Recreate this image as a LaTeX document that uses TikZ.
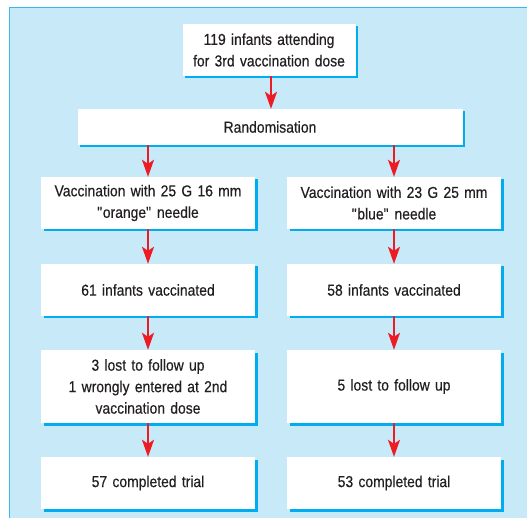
\documentclass[tikz,border=0pt]{standalone}
\usepackage{fontspec}
\setmainfont{Liberation Sans}[FakeStretch=0.88, WordSpace=0.7, FakeBold=0.4]
\usetikzlibrary{arrows.meta,shadows}
\definecolor{bgblue}{HTML}{C8E9F8}
\definecolor{edgeblue}{HTML}{3BB8EA}
\definecolor{shadowblue}{HTML}{00AEEF}
\definecolor{arrowred}{HTML}{ED1C24}
\definecolor{txt}{HTML}{231F20}
\newcommand{\qq}{\textquotedbl}
\begin{document}
\begin{tikzpicture}[x=1pt,y=-1pt,
  flowbox/.style={fill=white, draw=none, align=center, text=txt, font=\fontsize{15.8}{21.5}\selectfont,
    inner sep=0pt, text width=#1,
    drop shadow={shadow xshift=2.5pt, shadow yshift=-2.5pt, fill=shadowblue, opacity=1}},
  flowbox/.default=214pt,
  flowarrow/.style={draw=arrowred, line width=1.8pt, -{Stealth[length=17pt,width=12pt,inset=4pt]}}
]
\useasboundingbox (0,0) rectangle (527,518);
\fill[bgblue] (9,7.5) rectangle (530,521);
\draw[edgeblue, line width=1pt] (9,521) -- (9,7.5) -- (530,7.5);

\node[flowbox=173pt, minimum height=52pt] (b1) at (269,50) {119 infants attending\\for 3rd vaccination dose};
\node[flowbox=385pt, minimum height=36pt] (rand) at (270,127) {Randomisation};

\node[flowbox, minimum height=52pt] (l1) at (148,203) {Vaccination with 25 G 16 mm\\\qq orange\qq{} needle};
\node[flowbox, minimum height=52pt] (r1) at (394,203) {Vaccination with 23 G 25 mm\\\qq blue\qq{} needle};
\node[flowbox, minimum height=52pt] (l2) at (148,290) {61 infants vaccinated};
\node[flowbox, minimum height=52pt] (r2) at (394,290) {58 infants vaccinated};
\node[flowbox, minimum height=73pt] (l3) at (148,386.5) {3 lost to follow up\\1 wrongly entered at 2nd\\vaccination dose};
\node[flowbox, minimum height=73pt] (r3) at (394,386.5) {5 lost to follow up};
\node[flowbox, minimum height=52pt] (l4) at (148,483) {57 completed trial};
\node[flowbox, minimum height=52pt] (r4) at (394,483) {53 completed trial};

\draw[flowarrow] ([xshift=2pt]b1.south) -- ([xshift=2pt]b1.south |- rand.north);
\draw[flowarrow] (rand.south -| l1.north) -- (l1.north);
\draw[flowarrow] (rand.south -| r1.north) -- (r1.north);
\draw[flowarrow] (l1.south) -- (l2.north);
\draw[flowarrow] (r1.south) -- (r2.north);
\draw[flowarrow] (l2.south) -- (l3.north);
\draw[flowarrow] (r2.south) -- (r3.north);
\draw[flowarrow] (l3.south) -- (l4.north);
\draw[flowarrow] (r3.south) -- (r4.north);
\end{tikzpicture}
\end{document}
